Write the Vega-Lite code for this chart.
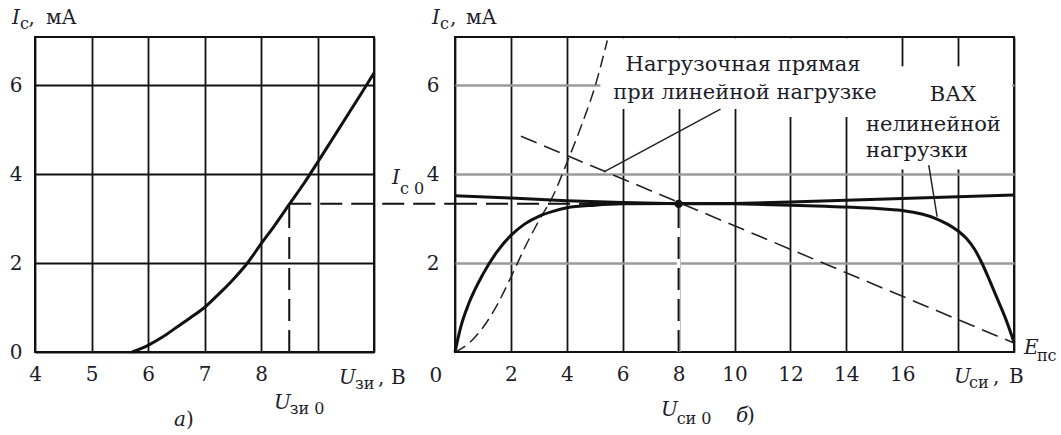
{
  "$schema": "https://vega.github.io/schema/vega-lite/v6.json",
  "background": "white",
  "padding": {"left": 8, "top": 7, "right": 0, "bottom": 0},
  "spacing": 81,
  "bounds": "flush",
  "datasets": {
    "transfer": [
      {"x": 5.72, "y": 0}, {"x": 6.0, "y": 0.15}, {"x": 6.25, "y": 0.33}, {"x": 6.5, "y": 0.55},
      {"x": 6.75, "y": 0.77}, {"x": 7.0, "y": 1.0}, {"x": 7.25, "y": 1.3}, {"x": 7.5, "y": 1.62},
      {"x": 7.76, "y": 2.0}, {"x": 8.0, "y": 2.43}, {"x": 8.25, "y": 2.86}, {"x": 8.5, "y": 3.32},
      {"x": 8.75, "y": 3.77}, {"x": 9.0, "y": 4.26}, {"x": 9.25, "y": 4.76}, {"x": 9.5, "y": 5.26},
      {"x": 9.75, "y": 5.76}, {"x": 10.0, "y": 6.27}
    ],
    "left_guides": [
      {"x": 8.5, "y": 0, "x2": 8.5, "y2": 3.33},
      {"x": 8.5, "y": 3.33, "x2": 11.45, "y2": 3.33}
    ],
    "left_italic": [
      {"x": 3.593, "y": 7.371, "t": "I"},
      {"x": 9.381, "y": -0.719, "t": "U"},
      {"x": 8.23, "y": -1.281, "t": "U"},
      {"x": 6.46, "y": -1.663, "t": "а"}
    ],
    "left_regular": [
      {"x": 3.885, "y": 7.371, "t": ","},
      {"x": 4.195, "y": 7.371, "t": "мА"},
      {"x": 10.07, "y": -0.719, "t": ","},
      {"x": 10.301, "y": -0.719, "t": "В"},
      {"x": 6.673, "y": -1.663, "t": ")"}
    ],
    "left_sub": [
      {"x": 3.735, "y": 7.258, "t": "с"},
      {"x": 9.664, "y": -0.831, "t": "зи"},
      {"x": 8.51, "y": -1.393, "t": "зи 0"}
    ],
    "label_boxes": [
      {"x": 5.2, "x2": 11.0, "y": 5.46, "y2": 7.05},
      {"x": 11.0, "x2": 14.6, "y": 5.28, "y2": 7.05},
      {"x": 14.6, "x2": 19.93, "y": 4.1, "y2": 6.42}
    ],
    "square_law": [
      {"x": 0, "y": 0}, {"x": 0.5, "y": 0.2}, {"x": 1.0, "y": 0.55}, {"x": 1.5, "y": 1.05},
      {"x": 2.0, "y": 1.68}, {"x": 2.5, "y": 2.35}, {"x": 3.0, "y": 2.95}, {"x": 3.5, "y": 3.5},
      {"x": 4.0, "y": 4.25}, {"x": 4.5, "y": 5.05}, {"x": 5.0, "y": 5.95}, {"x": 5.45, "y": 7.0}
    ],
    "load_line": [
      {"x": 2.36, "y": 4.85}, {"x": 20, "y": 0.2}
    ],
    "output_char": [
      {"x": 0, "y": 3.51}, {"x": 2, "y": 3.46}, {"x": 4, "y": 3.4}, {"x": 6, "y": 3.36},
      {"x": 8, "y": 3.33}, {"x": 10, "y": 3.34}, {"x": 12, "y": 3.37}, {"x": 14, "y": 3.41},
      {"x": 16, "y": 3.45}, {"x": 18, "y": 3.49}, {"x": 20, "y": 3.53}
    ],
    "load_vax": [
      {"x": 0, "y": 0}, {"x": 0.2, "y": 0.55}, {"x": 0.5, "y": 1.1}, {"x": 1.0, "y": 1.75},
      {"x": 1.5, "y": 2.25}, {"x": 2.0, "y": 2.62}, {"x": 2.5, "y": 2.88}, {"x": 3.0, "y": 3.05},
      {"x": 3.5, "y": 3.16}, {"x": 4.0, "y": 3.24}, {"x": 5.0, "y": 3.3}, {"x": 6.0, "y": 3.33},
      {"x": 8.0, "y": 3.34}, {"x": 10.0, "y": 3.33}, {"x": 12.0, "y": 3.3}, {"x": 13.4, "y": 3.27},
      {"x": 15.0, "y": 3.23}, {"x": 16.0, "y": 3.18}, {"x": 16.7, "y": 3.1}, {"x": 17.2, "y": 3.0},
      {"x": 17.6, "y": 2.88}, {"x": 18.0, "y": 2.72}, {"x": 18.3, "y": 2.55}, {"x": 18.6, "y": 2.3},
      {"x": 18.85, "y": 2.0}, {"x": 19.1, "y": 1.65}, {"x": 19.36, "y": 1.26}, {"x": 19.7, "y": 0.75},
      {"x": 20.0, "y": 0.22}
    ],
    "operating_point": [
      {"x": 8, "y": 3.33}
    ],
    "drop_line": [
      {"x": 8, "y": 0, "x2": 8, "y2": 3.33}
    ],
    "right_guides": [
      {"x": 8, "y": 0, "x2": 8, "y2": 3.33},
      {"x": 0, "y": 3.33, "x2": 8, "y2": 3.33}
    ],
    "leaders": [
      {"x": 9.5, "y": 5.46, "x2": 5.33, "y2": 4.05},
      {"x": 16.95, "y": 4.2, "x2": 17.25, "y2": 3.04}
    ],
    "right_italic": [
      {"x": -0.823, "y": 7.371, "t": "I"},
      {"x": -2.254, "y": 3.775, "t": "I"},
      {"x": 17.853, "y": -0.697, "t": "U"},
      {"x": 20.358, "y": -0.045, "t": "E"},
      {"x": 7.37, "y": -1.438, "t": "U"},
      {"x": 10.054, "y": -1.573, "t": "б"}
    ],
    "right_regular": [
      {"x": -0.179, "y": 7.371, "t": ","},
      {"x": 0.394, "y": 7.371, "t": "мА"},
      {"x": 19.25, "y": -0.697, "t": ","},
      {"x": 19.821, "y": -0.697, "t": "В"},
      {"x": 10.447, "y": -1.573, "t": ")"},
      {"x": -0.912, "y": -0.674, "t": "0"}
    ],
    "right_sub": [
      {"x": -0.537, "y": 7.258, "t": "с"},
      {"x": -1.97, "y": 3.551, "t": "с 0"},
      {"x": 18.39, "y": -0.809, "t": "си"},
      {"x": 20.82, "y": -0.202, "t": "пс"},
      {"x": 7.93, "y": -1.618, "t": "си 0"}
    ],
    "notes_center": [
      {"x": 10.304, "y": 6.315, "t": "Нагрузочная прямая"},
      {"x": 10.376, "y": 5.685, "t": "при линейной нагрузке"},
      {"x": 17.818, "y": 5.64, "t": "ВАХ"}
    ],
    "notes_left": [
      {"x": 14.705, "y": 4.966, "t": "нелинейной"},
      {"x": 14.705, "y": 4.382, "t": "нагрузки"}
    ]
  },
  "hconcat": [
    {
      "width": 339,
      "height": 315,
      "encoding": {
        "x": {
          "field": "x", "type": "quantitative",
          "scale": {"domain": [4, 10], "nice": false, "zero": false},
          "axis": {
            "title": null, "values": [4, 5, 6, 7, 8, 9, 10],
            "labelExpr": "datum.value > 8 ? '' : datum.label",
            "grid": true, "gridColor": "#111", "gridWidth": 1.8,
            "labelPadding": 12
          }
        },
        "y": {
          "field": "y", "type": "quantitative",
          "scale": {"domain": [0, 7.08], "nice": false, "zero": false},
          "axis": {
            "title": null, "values": [0, 2, 4, 6],
            "grid": true, "gridColor": "#111", "gridWidth": 1.8,
            "labelPadding": 13
          }
        }
      },
      "layer": [
        {
          "data": {"name": "left_guides"},
          "mark": {"type": "rule", "color": "#111", "strokeWidth": 2, "strokeDash": [22, 9]},
          "encoding": {"x2": {"field": "x2"}, "y2": {"field": "y2"}}
        },
        {
          "data": {"name": "transfer"},
          "mark": {"type": "line", "interpolate": "monotone", "color": "#111", "strokeWidth": 3}
        },
        {
          "data": {"name": "left_italic"},
          "mark": {"type": "text", "align": "left", "baseline": "alphabetic", "fontSize": 20, "fontStyle": "italic"},
          "encoding": {"text": {"field": "t"}}
        },
        {
          "data": {"name": "left_regular"},
          "mark": {"type": "text", "align": "left", "baseline": "alphabetic", "fontSize": 20},
          "encoding": {"text": {"field": "t"}}
        },
        {
          "data": {"name": "left_sub"},
          "mark": {"type": "text", "align": "left", "baseline": "alphabetic", "fontSize": 16},
          "encoding": {"text": {"field": "t"}}
        }
      ]
    },
    {
      "width": 559,
      "height": 315,
      "encoding": {
        "x": {
          "field": "x", "type": "quantitative",
          "scale": {"domain": [0, 20], "nice": false, "zero": false},
          "axis": {
            "title": null, "values": [0, 2, 4, 6, 8, 10, 12, 14, 16, 18, 20],
            "labelExpr": "datum.value == 0 || datum.value > 16 ? '' : datum.label",
            "grid": true, "gridColor": "#151515", "gridWidth": 1.8,
            "labelPadding": 12
          }
        },
        "y": {
          "field": "y", "type": "quantitative",
          "scale": {"domain": [0, 7.08], "nice": false, "zero": false},
          "axis": {
            "title": null, "values": [2, 4, 6],
            "grid": true, "gridColor": "#9a9a9a", "gridWidth": 2.4,
            "labelPadding": 16
          }
        }
      },
      "layer": [
        {
          "data": {"name": "label_boxes"},
          "mark": {"type": "rect", "color": "white"},
          "encoding": {"x2": {"field": "x2"}, "y2": {"field": "y2"}}
        },
        {
          "data": {"name": "drop_line"},
          "mark": {"type": "rule", "color": "white", "strokeWidth": 3.5},
          "encoding": {"x2": {"field": "x2"}, "y2": {"field": "y2"}}
        },
        {
          "data": {"name": "right_guides"},
          "mark": {"type": "rule", "color": "#111", "strokeWidth": 2, "strokeDash": [22, 9]},
          "encoding": {"x2": {"field": "x2"}, "y2": {"field": "y2"}}
        },
        {
          "data": {"name": "square_law"},
          "mark": {"type": "line", "interpolate": "monotone", "color": "#222", "strokeWidth": 1.5, "strokeDash": [12, 6]}
        },
        {
          "data": {"name": "load_line"},
          "mark": {"type": "line", "color": "#222", "strokeWidth": 1.6, "strokeDash": [17, 8]}
        },
        {
          "data": {"name": "output_char"},
          "mark": {"type": "line", "color": "#111", "strokeWidth": 3}
        },
        {
          "data": {"name": "load_vax"},
          "mark": {"type": "line", "interpolate": "monotone", "color": "#111", "strokeWidth": 3}
        },
        {
          "data": {"name": "leaders"},
          "mark": {"type": "rule", "color": "#222", "strokeWidth": 1.5},
          "encoding": {"x2": {"field": "x2"}, "y2": {"field": "y2"}}
        },
        {
          "data": {"name": "operating_point"},
          "mark": {"type": "point", "shape": "circle", "filled": true, "color": "#111", "size": 70, "opacity": 1}
        },
        {
          "data": {"name": "right_italic"},
          "mark": {"type": "text", "align": "left", "baseline": "alphabetic", "fontSize": 20, "fontStyle": "italic"},
          "encoding": {"text": {"field": "t"}}
        },
        {
          "data": {"name": "right_regular"},
          "mark": {"type": "text", "align": "left", "baseline": "alphabetic", "fontSize": 20},
          "encoding": {"text": {"field": "t"}}
        },
        {
          "data": {"name": "right_sub"},
          "mark": {"type": "text", "align": "left", "baseline": "alphabetic", "fontSize": 16},
          "encoding": {"text": {"field": "t"}}
        },
        {
          "data": {"name": "notes_center"},
          "mark": {"type": "text", "align": "center", "baseline": "alphabetic", "fontSize": 21},
          "encoding": {"text": {"field": "t"}}
        },
        {
          "data": {"name": "notes_left"},
          "mark": {"type": "text", "align": "left", "baseline": "alphabetic", "fontSize": 21},
          "encoding": {"text": {"field": "t"}}
        }
      ]
    }
  ],
  "config": {
    "view": {"stroke": "#111", "strokeWidth": 2},
    "axis": {
      "ticks": false, "domain": false, "labelFlush": false, "labelOverlap": false,
      "labelBound": false, "labelFont": "DejaVu Serif", "labelFontSize": 20,
      "labelColor": "#1c1c28", "gridOpacity": 1
    },
    "text": {"font": "DejaVu Serif", "color": "#1c1c28"}
  }
}
